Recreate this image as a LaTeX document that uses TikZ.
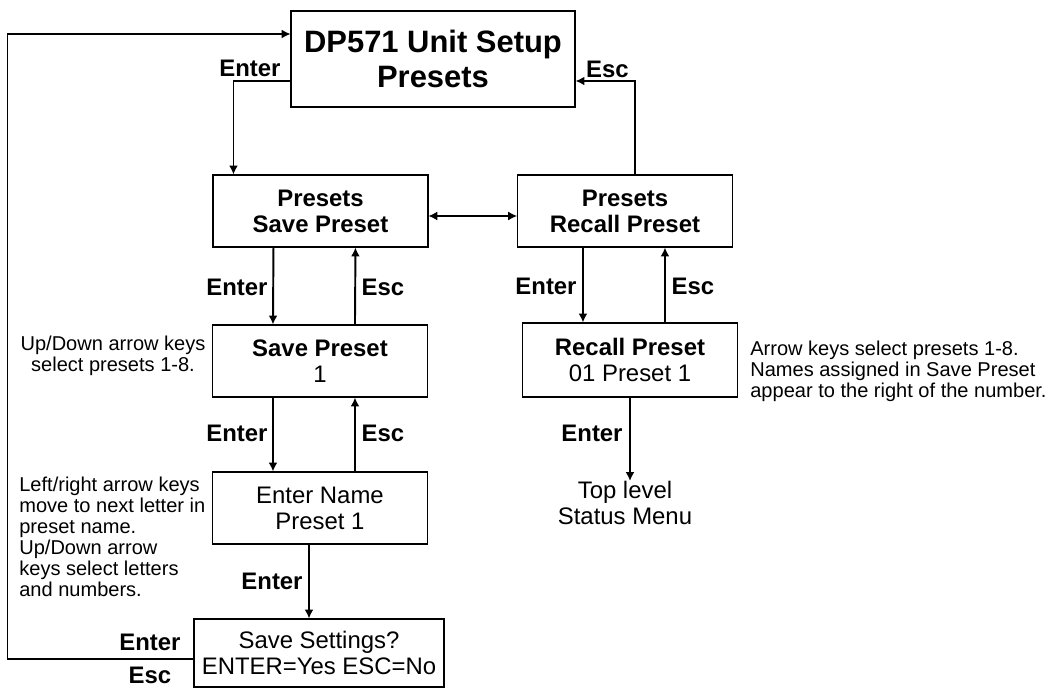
\documentclass[tikz,border=0pt]{standalone}
\usepackage{fontspec}
\setmainfont{Liberation Sans}
\usetikzlibrary{arrows.meta}

\begin{document}
\begin{tikzpicture}[>={Latex[length=5pt,width=5pt]}]
\tikzstyle{box}=[draw,line width=0.6pt,align=center,minimum width=4.3cm,minimum height=1.44cm,inner sep=0pt,font=\fontsize{13.6}{14.8}\selectfont];
\tikzstyle{key}=[font=\fontsize{13.6}{14.8}\selectfont\bfseries];
\tikzstyle{note}=[align=center,inner sep=0pt,font=\fontsize{11.4}{12}\selectfont];
\tikzstyle{go}=[->,line width=1.1pt];
\useasboundingbox (0,0) rectangle (21,-13.76);
% boxes
\node [box,minimum width=5.68cm,minimum height=1.92cm,font=\fontsize{17.6}{20}\selectfont\bfseries] (top) at (8.66,-1.18) {DP571 Unit Setup\\Presets};
\node [box] (sv) at (6.41,-4.22) {\textbf{Presets}\\\textbf{Save Preset}};
\node [box] (rc) at (12.5,-4.22) {\textbf{Presets}\\\textbf{Recall Preset}};
\node [box] (sv1) at (6.4,-7.22) {\textbf{Save Preset}\\1};
\node [box,minimum height=1.48cm] (rc1) at (12.6,-7.2) {\textbf{Recall Preset}\\01 Preset 1};
\node [box] (nm) at (6.4,-10.16) {Enter Name\\Preset 1};
\node [box,minimum width=5cm,minimum height=1.36cm] (ss) at (6.38,-13.06) {Save Settings?\\ENTER=Yes ESC=No};
\node [note,font=\fontsize{13.6}{14.8}\selectfont,anchor=north] (menu) at (12.5,-9.62) {Top level\\Status Menu};

% notes
\node [note] (n1) at (2.26,-7.12) {Up/Down arrow keys\\select presets 1-8.};
\node [note,align=left,anchor=west] (n2) at (0.38,-10.74) {Left/right arrow keys\\move to next letter in\\preset name.\\Up/Down arrow\\keys select letters\\and numbers.};
\node [note,align=left,anchor=west] (n3) at (15.0,-7.42) {Arrow keys select presets 1-8.\\Names assigned in Save Preset\\appear to the right of the number.};

% connectors
\draw [go] ([yshift=-0.44cm]top.west) -| ([xshift=0.42cm]sv.north west);
\draw [go] ([xshift=2.36cm]rc.north west) |- ([yshift=-0.44cm]top.east);
\draw [<->,line width=0.6pt] ([yshift=-0.1cm]sv.east) -- ([yshift=-0.1cm]rc.west);
\draw [go] ([xshift=1.22cm]sv.south west) -- ([xshift=1.22cm]sv1.north west);
\draw [go] ([xshift=2.86cm]sv1.north west) -- ([xshift=2.86cm]sv.south west);
\draw [go] ([xshift=1.22cm]sv1.south west) -- ([xshift=1.22cm]nm.north west);
\draw [go] ([xshift=2.86cm]nm.north west) -- ([xshift=2.86cm]sv1.south west);
\draw [go] ([xshift=1.32cm]rc.south west) -- ([xshift=1.32cm]rc.south west |- rc1.north);
\draw [go] ([xshift=2.96cm]rc.south west |- rc1.north) -- ([xshift=2.96cm]rc.south west);
\draw [go] (rc1.south) -- (rc1.south |- menu.north);
\draw [go] ([xshift=-0.22cm]nm.south) -- ([xshift=-0.22cm]nm.south |- ss.north);
\draw [->,line width=0.7pt] ([yshift=-0.12cm]ss.west) -- ++(-3.72,0) |- ([yshift=0.5cm]top.west);

% key labels
\node [key] at (5.0,-1.36) {Enter};
\node [key] at (12.15,-1.38) {Esc};
\node [key] at (4.74,-5.74) {Enter};
\node [key] at (7.66,-5.74) {Esc};
\node [key] at (4.74,-8.66) {Enter};
\node [key] at (7.66,-8.66) {Esc};
\node [key] at (10.92,-5.72) {Enter};
\node [key] at (13.86,-5.72) {Esc};
\node [key] at (11.84,-8.66) {Enter};
\node [key] at (5.44,-11.62) {Enter};
\node [key] at (3.0,-12.84) {Enter};
\node [key,inner sep=1pt] at (3.0,-13.5) {Esc};
\end{tikzpicture}
\end{document}
